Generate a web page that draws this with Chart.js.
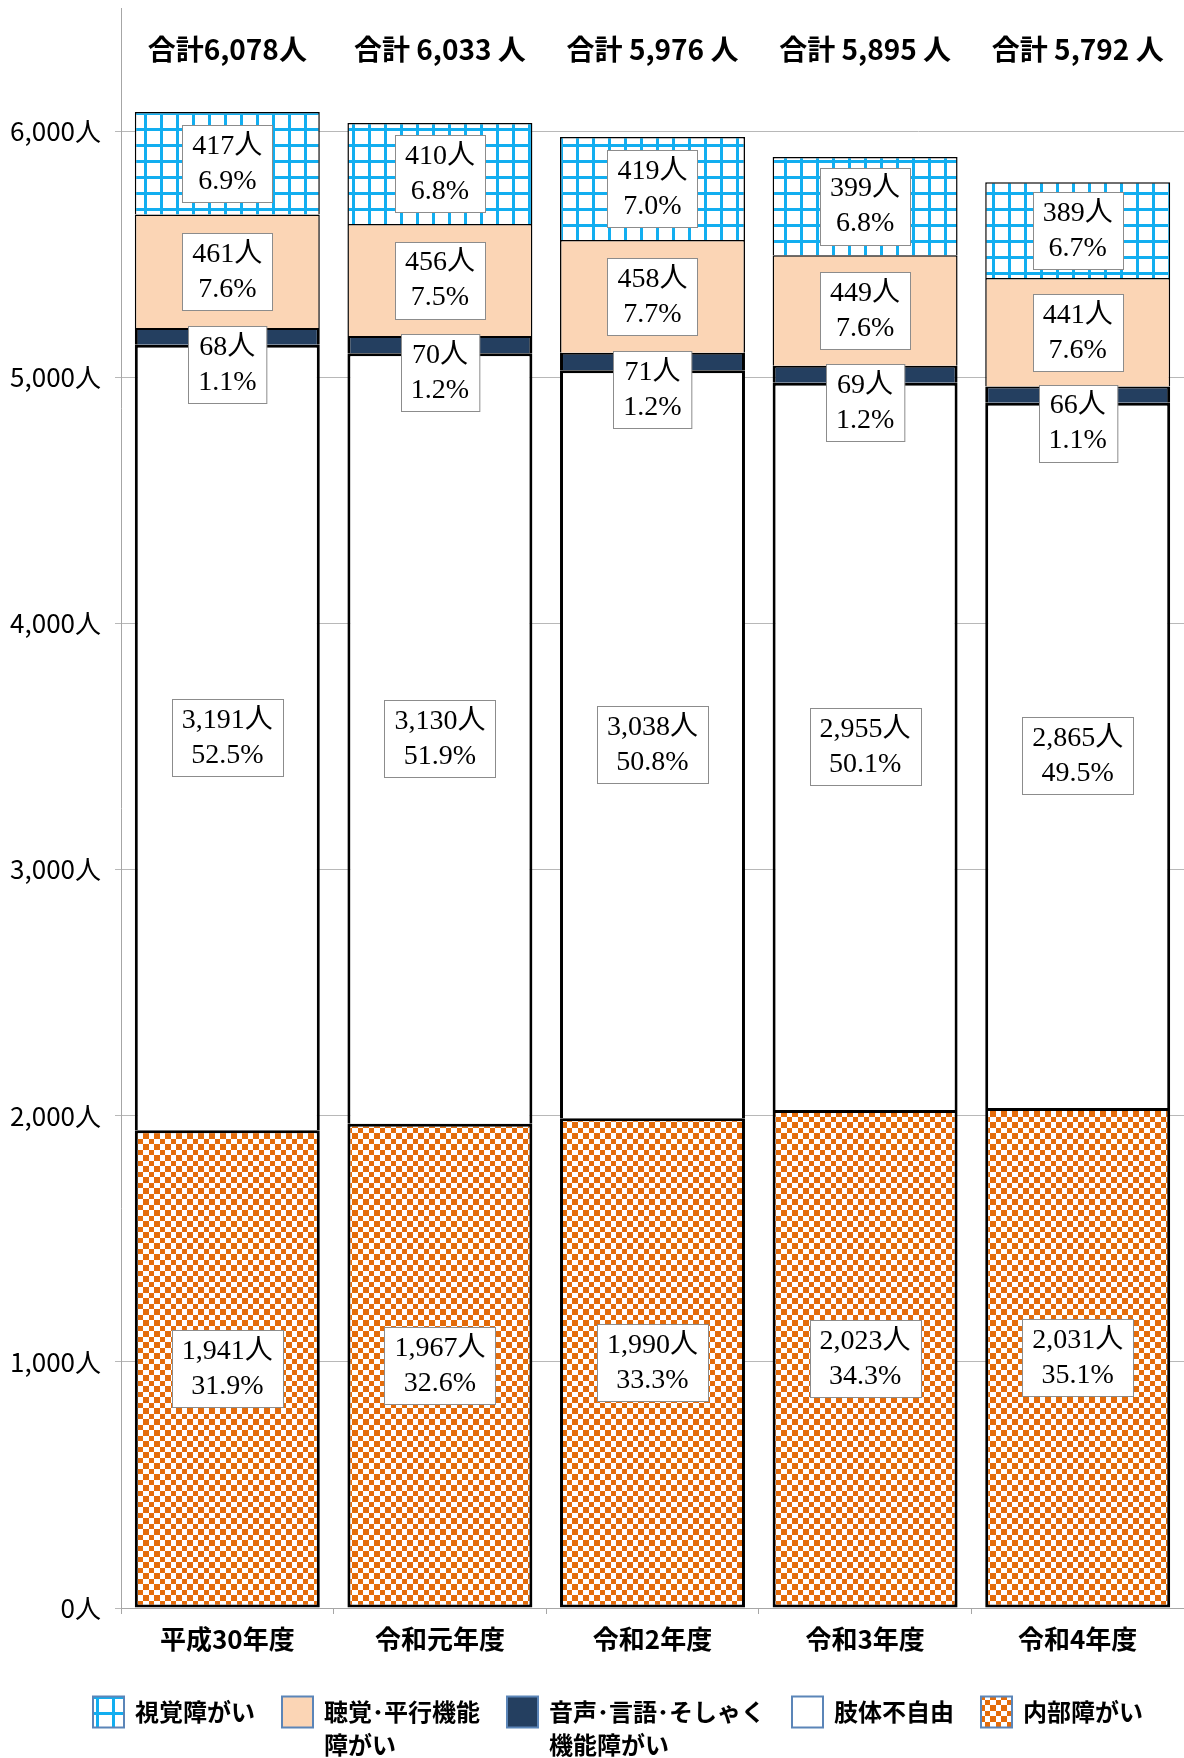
<!DOCTYPE html>
<html lang="ja">
<head>
<meta charset="utf-8">
<title>身体障がい者手帳所持者数の推移</title>
<script src="https://cdn.jsdelivr.net/npm/chart.js@4.4.1/dist/chart.umd.min.js"></script>
<style>
  html, body { margin: 0; padding: 0; background: #fff; }
  #wrap { width: 1184px; height: 1758px; }
</style>
</head>
<body>
<div id="wrap"><canvas id="myChart" width="1184" height="1758"></canvas></div>
<script>
const categories = ['平成30年度', '令和元年度', '令和2年度', '令和3年度', '令和4年度'];

// 人数（下から積み上げる順）
const naibu    = [1941, 1967, 1990, 2023, 2031];
const shitai   = [3191, 3130, 3038, 2955, 2865];
const onsei    = [68, 70, 71, 69, 66];
const choukaku = [461, 456, 458, 449, 441];
const shikaku  = [417, 410, 419, 399, 389];

// 構成比（%）
const naibuPct    = [31.9, 32.6, 33.3, 34.3, 35.1];
const shitaiPct   = [52.5, 51.9, 50.8, 50.1, 49.5];
const onseiPct    = [1.1, 1.2, 1.2, 1.2, 1.1];
const choukakuPct = [7.6, 7.5, 7.7, 7.6, 7.6];
const shikakuPct  = [6.9, 6.8, 7.0, 6.8, 6.7];

const totalLabels = ['合計6,078人', '合計 6,033 人', '合計 5,976 人', '合計 5,895 人', '合計 5,792 人'];
const yTicks = [0, 1000, 2000, 3000, 4000, 5000, 6000];

const NARROW = "'Liberation Sans Narrow', 'Noto Sans CJK JP', sans-serif";
const SERIF = "'Liberation Serif', 'Noto Sans CJK JP', serif";
const JP = "'Noto Sans CJK JP', sans-serif";

const canvas = document.getElementById('myChart');
const ctx = canvas.getContext('2d');

// 視覚障がい: 青い格子
function gridPattern() {
    const c = document.createElement('canvas');
    c.width = 16; c.height = 16;
    const g = c.getContext('2d');
    g.fillStyle = '#fff';
    g.fillRect(0, 0, 16, 16);
    g.fillStyle = '#12aef0';
    g.fillRect(0, 0, 3, 16);
    g.fillRect(0, 0, 16, 3);
    return ctx.createPattern(c, 'repeat');
}

// 内部障がい: オレンジの市松
function checkerPattern() {
    const c = document.createElement('canvas');
    c.width = 11; c.height = 11;
    const g = c.getContext('2d');
    g.fillStyle = '#fff';
    g.fillRect(0, 0, 11, 11);
    g.fillStyle = '#e46c0a';
    g.fillRect(0, 0, 6, 6);
    g.fillRect(6, 6, 5, 5);
    return ctx.createPattern(c, 'repeat');
}

const gridFill = gridPattern();
const checkerFill = checkerPattern();

const boxLabels = {
    id: 'boxLabels',
    afterDatasetsDraw(chart) {
        const c = chart.ctx;
        c.save();
        c.font = '28px ' + SERIF;
        c.textAlign = 'center';
        c.textBaseline = 'middle';
        chart.data.datasets.forEach((ds, di) => {
            const meta = chart.getDatasetMeta(di);
            meta.data.forEach((bar, i) => {
                const lines = [ds.data[i].toLocaleString('en-US') + '人', ds.pct[i].toFixed(1) + '%'];
                const w = Math.max(...lines.map(t => c.measureText(t).width)) + 20;
                const h = 77;
                let cy = (bar.y + bar.base) / 2;
                if (ds.labelAtTop) cy = bar.y - 2 + h / 2;
                const x0 = Math.round(bar.x - w / 2) + 0.5;
                const y0 = Math.round(cy - h / 2) + 0.5;
                c.fillStyle = '#fff';
                c.fillRect(x0, y0, w, h);
                c.strokeStyle = '#8c8c8c';
                c.lineWidth = 1;
                c.strokeRect(x0, y0, w, h);
                c.fillStyle = '#000';
                c.fillText(lines[0], bar.x, cy - 17);
                c.fillText(lines[1], bar.x, cy + 18);
            });
        });

        // 合計
        const yScale = chart.scales.y;
        const meta0 = chart.getDatasetMeta(0);
        c.font = 'bold 28px ' + NARROW;
        totalLabels.forEach((t, i) => {
            c.fillText(t, meta0.data[i].x, yScale.getPixelForValue(6330));
        });
        c.restore();
    },
    afterDraw(chart) {
        // 凡例
        const c = chart.ctx;
        c.save();
        c.font = 'bold 24px ' + JP;
        c.textAlign = 'left';
        c.textBaseline = 'middle';
        const items = chart.data.datasets.slice().reverse();
        let x = 93;
        const y = 1712;
        const size = 31;
        items.forEach(ds => {
            c.fillStyle = ds.backgroundColor;
            c.fillRect(x, y - size / 2, size, size);
            c.strokeStyle = '#5b85b8';
            c.lineWidth = 2;
            c.strokeRect(x, y - size / 2, size, size);
            c.fillStyle = '#000';
            let maxW = 0;
            ds.legendLines.forEach((line, li) => {
                c.fillText(line, x + size + 11, y + li * 33);
                maxW = Math.max(maxW, c.measureText(line).width);
            });
            x += size + 11 + maxW + 27;
        });
        c.restore();
    }
};

const myChart = new Chart(ctx, {
    type: 'bar',
    data: {
        labels: categories,
        datasets: [
            {
                label: '内部障がい', legendLines: ['内部障がい'],
                data: naibu, pct: naibuPct,
                backgroundColor: checkerFill, borderColor: '#000',
                borderWidth: { top: 3, right: 3, bottom: 3, left: 3 }
            },
            {
                label: '肢体不自由', legendLines: ['肢体不自由'],
                data: shitai, pct: shitaiPct,
                backgroundColor: '#fff', borderColor: '#000',
                borderWidth: { top: 3, right: 3, bottom: 0, left: 3 }
            },
            {
                label: '音声･言語･そしゃく機能障がい', legendLines: ['音声･言語･そしゃく', '機能障がい'],
                data: onsei, pct: onseiPct, labelAtTop: true,
                backgroundColor: '#243f60', borderColor: '#000',
                borderWidth: { top: 2, right: 3, bottom: 0, left: 3 }
            },
            {
                label: '聴覚･平行機能障がい', legendLines: ['聴覚･平行機能', '障がい'],
                data: choukaku, pct: choukakuPct,
                backgroundColor: '#fbd5b5', borderColor: '#000',
                borderWidth: { top: 1.5, right: 1.5, bottom: 0, left: 1.5 }
            },
            {
                label: '視覚障がい', legendLines: ['視覚障がい'],
                data: shikaku, pct: shikakuPct,
                backgroundColor: gridFill, borderColor: '#000',
                borderWidth: { top: 1.5, right: 1.5, bottom: 0, left: 1.5 }
            }
        ]
    },
    options: {
        responsive: false,
        animation: false,
        layout: { padding: { top: 8, right: 0, bottom: 0, left: 0 } },
        datasets: {
            bar: { categoryPercentage: 1, barPercentage: 0.87, borderSkipped: false }
        },
        plugins: {
            legend: { display: false },
            tooltip: { enabled: false }
        },
        scales: {
            x: {
                stacked: true,
                grid: { offset: true, drawOnChartArea: false, tickLength: 6, color: '#a6a6a6' },
                border: { color: '#a6a6a6' },
                ticks: { color: '#000', padding: 10, font: { family: NARROW, size: 26, weight: 'bold' } },
                afterFit: s => { s.height = 150; s.paddingLeft = 0; s.paddingRight = 0; }
            },
            y: {
                stacked: true,
                min: 0,
                max: 6500,
                afterBuildTicks: s => { s.ticks = yTicks.map(v => ({ value: v })); },
                afterFit: s => { s.width = 121; s.paddingTop = 0; s.paddingBottom = 0; },
                grid: { color: '#b8b8b8', tickLength: 6 },
                border: { color: '#a6a6a6' },
                ticks: {
                    color: '#000', padding: 14,
                    font: { family: NARROW, size: 26 },
                    callback: v => v.toLocaleString('en-US') + '人'
                }
            }
        }
    },
    plugins: [boxLabels]
});
</script>
</body>
</html>
